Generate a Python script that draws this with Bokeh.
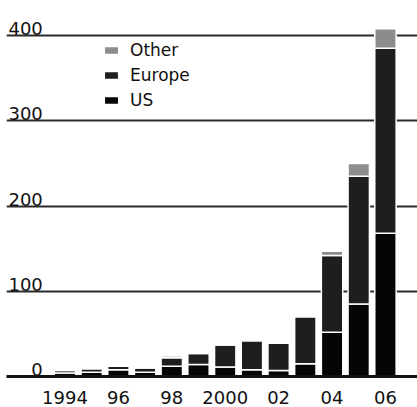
from bokeh.plotting import figure
from bokeh.models import ColumnDataSource, FixedTicker, Legend, LegendItem
from bokeh.core.properties import value
from bokeh.embed import file_html
from bokeh.resources import INLINE

# ---- data ----
years = [1994, 1995, 1996, 1997, 1998, 1999, 2000, 2001, 2002, 2003, 2004, 2005, 2006]
us = [4, 5, 8, 5, 12, 14, 11, 8, 7, 15, 52, 85, 168]
europe = [3, 4, 4, 5, 10, 13, 26, 34, 32, 55, 90, 150, 217]
other = [1, 1, 1, 1, 2, 1, 0.5, 0.5, 0.5, 1, 5, 15, 23]
x_ticks = [1994, 1996, 1998, 2000, 2002, 2004, 2006]
x_tick_labels = ["1994", "96", "98", "2000", "02", "04", "06"]
y_ticks = [0, 100, 200, 300, 400]
y_tick_labels = ["0", "100", "200", "300", "400"]

FONT = "DejaVu Sans"

src = ColumnDataSource(dict(year=years, US=us, Europe=europe, Other=other))

p = figure(width=417, height=407, output_backend="svg", toolbar_location=None,
           x_range=(1991.81, 2007.2), y_range=(0, 431.7),
           min_border_left=6, min_border_right=0, min_border_top=8, min_border_bottom=31)
p.outline_line_color = None
p.background_fill_color = "white"

# grid
p.xgrid.visible = False
p.ygrid.ticker = FixedTicker(ticks=y_ticks[1:])
p.ygrid.grid_line_color = "#2a2a2a"
p.ygrid.grid_line_width = 2

# axes
p.yaxis.visible = False
xa = p.xaxis[0]
xa.ticker = FixedTicker(ticks=x_ticks)
xa.major_label_overrides = {t: l for t, l in zip(x_ticks, x_tick_labels)}
xa.major_tick_line_color = None
xa.minor_tick_line_color = None
xa.axis_line_width = 3
xa.axis_line_color = "#111111"
xa.major_label_text_font = FONT
xa.major_label_text_font_size = "18px"
xa.major_label_text_color = "#111111"
xa.major_label_standoff = 8

# bars
rs = p.vbar_stack(["US", "Europe", "Other"], x="year", width=0.8, source=src,
                  color=["#050505", "#1e1e1e", "#8c8c8c"],
                  line_color="white", line_width=1.5)

# y tick labels drawn above gridlines
lab_src = ColumnDataSource(dict(x=[1993.17] * len(y_ticks), y=y_ticks, t=y_tick_labels))
p.text(x="x", y="y", text="t", source=lab_src, text_align="right",
       text_baseline="alphabetic", y_offset=-7, text_font=value(FONT),
       text_font_size="18px", text_color="#111111")

legend = Legend(items=[LegendItem(label="Other", renderers=[rs[2]]),
                       LegendItem(label="Europe", renderers=[rs[1]]),
                       LegendItem(label="US", renderers=[rs[0]])],
                location=(96, 266), glyph_width=18, glyph_height=10,
                label_standoff=10, spacing=5, padding=0, margin=0,
                border_line_color=None, background_fill_alpha=0,
                label_text_font=FONT, label_text_font_size="17px",
                label_text_color="#111111", label_height=20)
p.add_layout(legend)

open("out.html", "w").write(file_html(p, INLINE))
